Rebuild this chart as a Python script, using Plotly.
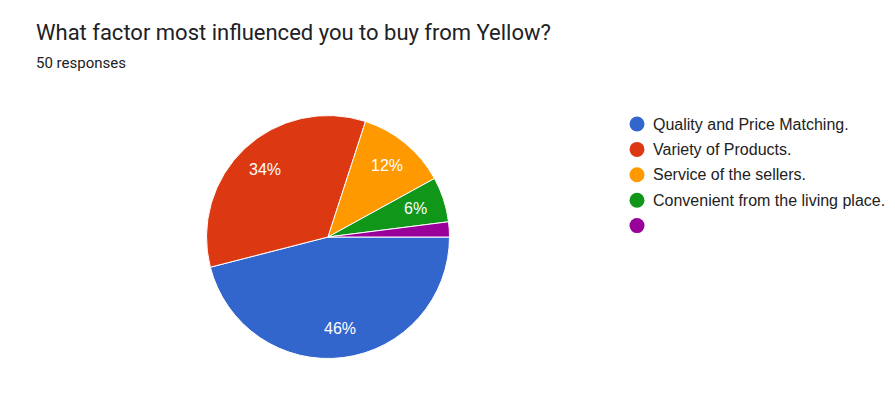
import math
import plotly.graph_objects as go

labels = ["Quality and Price Matching.", "Variety of Products.", "Service of the sellers.",
          "Convenient from the living place.", ""]
counts = [23, 17, 6, 3, 1]
colors = ["#3366CC", "#DC3912", "#FF9900", "#109618", "#990099"]
title = "What factor most influenced you to buy from Yellow?"
subtitle = "50 responses"

W, H = 895, 404
cx, cy, r = 328, 237, 121.5

fig = go.Figure(go.Pie(
    labels=[l if l else " " for l in labels], values=counts, sort=False, direction="clockwise",
    rotation=90, textinfo="none", hoverinfo="skip",
    marker=dict(colors=colors, line=dict(color="white", width=1)),
    domain=dict(x=[(cx - r) / W, (cx + r) / W], y=[(H - cy - r) / H, (H - cy + r) / H]),
    showlegend=False,
))

annotations = []
total = sum(counts)
start = 90.0
for v in counts:
    frac = v / total
    mid = start + frac * 180.0
    start += frac * 360.0
    if frac < 0.05:
        continue
    a = math.radians(mid)
    px = cx + 0.76 * r * math.sin(a)
    py = cy - 0.76 * r * math.cos(a)
    annotations.append(dict(x=px / W, y=1 - py / H, xref="paper", yref="paper",
                            text=f"{round(frac * 100)}%", showarrow=False,
                            font=dict(family="Liberation Sans, Arial", size=16, color="white"),
                            xanchor="center", yanchor="middle"))

annotations.append(dict(x=34 / W, y=1 - 33 / H, xref="paper", yref="paper", text=title,
                        showarrow=False, xanchor="left", yanchor="middle",
                        font=dict(family="Roboto", size=22, color="#202124")))
annotations.append(dict(x=34 / W, y=1 - 63 / H, xref="paper", yref="paper", text=subtitle,
                        showarrow=False, xanchor="left", yanchor="middle",
                        font=dict(family="Roboto", size=15, color="#202124")))

shapes = []
lx, ly0, dy = 637, 124, 25.4
for i, (lab, col) in enumerate(zip(labels, colors)):
    y = ly0 + i * dy
    shapes.append(dict(type="circle", xref="paper", yref="paper",
                       x0=(lx - 7.5) / W, x1=(lx + 7.5) / W, y0=1 - (y + 7.5) / H, y1=1 - (y - 7.5) / H,
                       fillcolor=col, line=dict(width=0)))
    if lab:
        annotations.append(dict(x=(lx + 14) / W, y=1 - y / H, xref="paper", yref="paper", text=lab,
                                showarrow=False, xanchor="left", yanchor="middle",
                                font=dict(family="Liberation Sans, Arial", size=16, color="#222222")))

fig.update_layout(width=W, height=H, margin=dict(l=0, r=0, t=0, b=0),
                  paper_bgcolor="white", plot_bgcolor="white",
                  annotations=annotations, shapes=shapes)
fig.write_html("out.html")
